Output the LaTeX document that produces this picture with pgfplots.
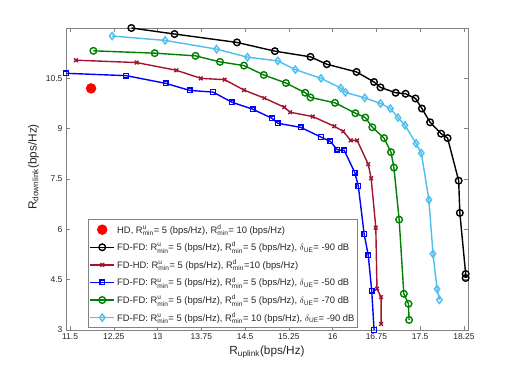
\documentclass[border=0pt]{standalone}
\usepackage{fontspec}
\setmainfont{Liberation Sans}
\usepackage{amsmath}
\usepackage{pgfplots}
\pgfplotsset{compat=1.18}

\definecolor{mred}{RGB}{162,20,47}
\definecolor{mgreen}{RGB}{0,128,0}
\definecolor{mcyan}{RGB}{77,190,238}
\definecolor{axgray}{RGB}{130,130,130}
\definecolor{txtgray}{RGB}{38,38,38}

\newcommand{\Rud}[2]{R$^{\text{#1}}_{\text{#2}}$}

\begin{document}
\begin{tikzpicture}
\begin{axis}[
  scale only axis, width=402pt, height=302pt,
  xmin=11.43, xmax=18.32, ymin=3, ymax=12,
  xtick={11.5,12.25,13,13.75,14.5,15.25,16,16.75,17.5,18.25},
  ytick={3,4.5,6,7.5,9,10.5},
  tick align=inside, tick pos=both, ticklabel pos=left,
  major tick length=4pt,
  axis line style={axgray}, tick style={axgray, line width=0.5pt},
  /pgf/number format/assume math mode=true,
  tick label style={font=\fontsize{8.5}{10}\selectfont, text=txtgray},
  label style={font=\fontsize{11.8}{14}\selectfont, text=txtgray},
  xlabel={R$_{\text{uplink}}$(bps/Hz)},
  ylabel={R$_{\text{downlink}}$(bps/Hz)},
  ylabel style={xshift=12pt},
  legend style={at={(0.055,0.007)}, anchor=south west, draw=axgray, fill=white,
    font=\fontsize{9.4}{11}\selectfont, text=txtgray, row sep=3.5pt,
    inner xsep=1pt, inner ysep=3pt},
  legend cell align=left,
  legend image code/.code={
    \draw[mark repeat=2,mark phase=2,#1]
      plot coordinates {(0cm,0cm) (0.43cm,0cm) (0.86cm,0cm)};},
  every axis plot/.append style={line width=1.4pt},
]
\addplot[only marks, mark=*, color=red, mark size=4.5pt] coordinates {(11.86,10.20)};
\addlegendentry{HD, \Rud{u}{min}= 5 (bps/Hz), \Rud{d}{min}= 10 (bps/Hz)}

\addplot[black, mark=o, mark size=3.3pt] coordinates {
  (12.55,12.00)(13.29,11.82)(14.36,11.57)(15.01,11.31)(15.62,11.14)(15.90,10.92)
  (16.41,10.69)(16.71,10.39)(16.82,10.23)(17.08,10.07)(17.25,10.04)(17.42,9.90)
  (17.53,9.60)(17.67,9.19)(17.86,8.85)(17.97,8.72)(18.16,7.45)(18.18,6.49)
  (18.28,4.67)(18.28,4.55)};
\addlegendentry{FD-FD: \Rud{u}{min}= 5 (bps/Hz), \Rud{d}{min}= 5 (bps/Hz), $\delta_{\text{UE}}$= -90 dB}

\addplot[mred, mark=x, mark size=2.6pt] coordinates {
  (11.60,11.04)(12.64,10.97)(13.32,10.74)(13.74,10.50)(14.15,10.46)(14.48,10.15)
  (14.83,9.91)(15.17,9.64)(15.27,9.49)(15.66,9.36)(16.03,9.07)(16.18,8.92)
  (16.31,8.65)(16.42,8.65)(16.61,7.94)(16.66,7.52)(16.74,6.05)(16.76,4.23)
  (16.83,3.98)(16.83,3.18)};
\addlegendentry{FD-HD: \Rud{u}{min}= 5 (bps/Hz), \Rud{d}{min}=10 (bps/Hz)}

\addplot[blue, mark=square, mark size=2.3pt] coordinates {
  (11.43,10.65)(12.46,10.58)(13.14,10.35)(13.55,10.14)(13.95,10.09)(14.27,9.79)
  (14.63,9.58)(14.96,9.31)(15.06,9.16)(15.45,9.04)(15.80,8.75)(15.96,8.62)
  (16.08,8.37)(16.20,8.35)(16.38,7.69)(16.44,7.29)(16.54,5.86)(16.61,5.23)
  (16.67,4.17)(16.71,3.00)};
\addlegendentry{FD-FD: \Rud{u}{min}= 5 (bps/Hz), \Rud{d}{min}= 5 (bps/Hz), $\delta_{\text{UE}}$= -50 dB}

\addplot[mgreen, mark=o, mark size=3.3pt] coordinates {
  (11.90,11.32)(12.95,11.25)(13.65,11.17)(14.07,10.99)(14.48,10.88)(14.82,10.60)
  (15.20,10.36)(15.53,10.07)(15.62,9.93)(16.04,9.77)(16.39,9.46)(16.56,9.33)
  (16.68,9.04)(16.88,8.72)(17.00,8.30)(17.05,7.84)(17.14,6.29)(17.22,4.08)
  (17.30,3.78)(17.31,3.30)};
\addlegendentry{FD-FD: \Rud{u}{min}= 5 (bps/Hz), \Rud{d}{min}= 5 (bps/Hz), $\delta_{\text{UE}}$= -70 dB}

\addplot[mcyan, mark=diamond, mark size=3.6pt] coordinates {
  (12.22,11.76)(13.13,11.63)(14.01,11.37)(14.54,11.13)(15.06,11.02)(15.36,10.76)
  (15.80,10.50)(16.14,10.21)(16.22,10.08)(16.55,9.92)(16.82,9.75)(16.99,9.60)
  (17.12,9.33)(17.24,9.10)(17.43,8.56)(17.52,8.27)(17.65,6.88)(17.72,5.27)
  (17.79,4.22)(17.83,3.90)};
\addlegendentry{FD-FD: \Rud{u}{min}= 5 (bps/Hz), \Rud{d}{min}= 10 (bps/Hz), $\delta_{\text{UE}}$= -90 dB}
\end{axis}
\path ([shift={(-66pt,-52pt)}]current axis.south west) rectangle ([shift={(50pt,28pt)}]current axis.north east);
\end{tikzpicture}
\end{document}
